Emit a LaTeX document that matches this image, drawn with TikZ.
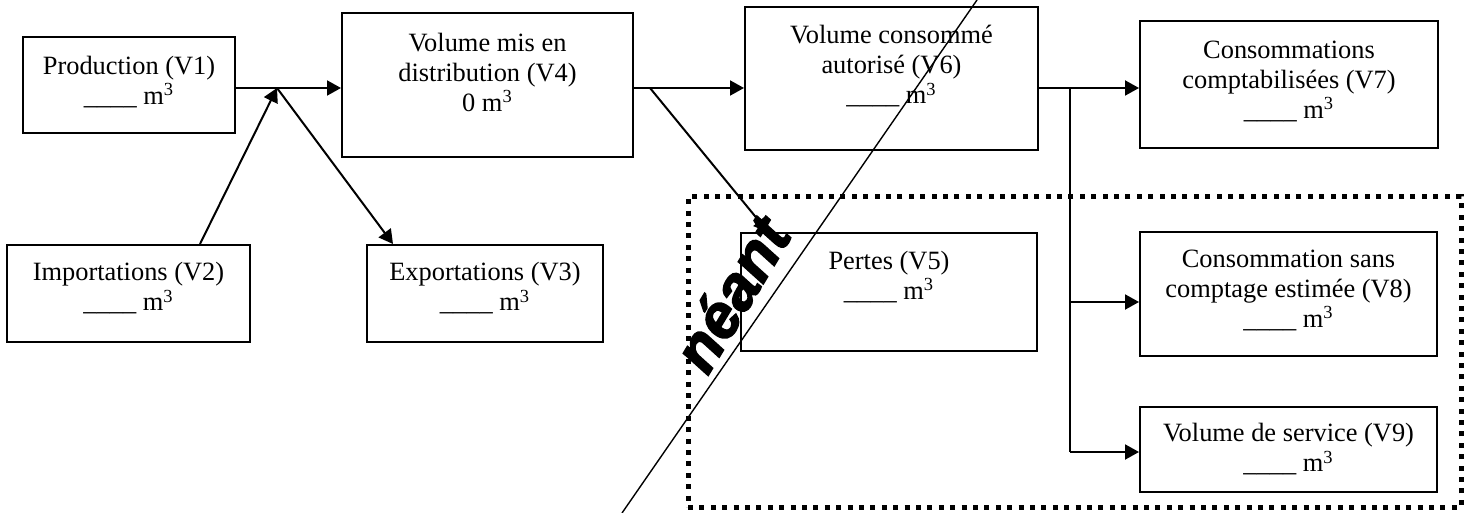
\documentclass[tikz,border=0pt]{standalone}
\usepackage{fontspec}
\setmainfont{Liberation Serif}
\newfontfamily\neantfont{Liberation Sans}[BoldItalicFeatures={FakeBold=2.5}]
\usetikzlibrary{arrows.meta}
\begin{document}
\begin{tikzpicture}[x=0.5pt,y=-0.5pt,
  box/.style 2 args={draw,line width=1pt,inner sep=0pt,minimum width=#1*0.5pt,minimum height=#2*0.5pt},
  lbl/.style={font=\fontsize{13.2}{15}\selectfont,align=center,inner sep=0pt},
  conn/.style={line width=1pt},
  arr/.style={conn,-{Triangle[length=7pt,width=7.5pt]}},
  frame/.style 2 args={draw,line width=2.5pt,dash pattern=on 2.5pt off 3.2pt,inner sep=0pt,minimum width=#1*0.5pt,minimum height=#2*0.5pt},
  strike/.style={line width=0.7pt},
  neant/.style={font=\neantfont\bfseries\itshape\fontsize{31}{31}\selectfont,inner sep=0pt}]
\useasboundingbox (0,0) rectangle (1471,513);
\fill[white] (0,0) rectangle (1471,513);
% boxes
\node[box={212}{96}] (v1) at (129,85) {};
\node[box={243}{97}] (v2) at (128.5,293.5) {};
\node[box={236}{97}] (v3) at (485,293.5) {};
\node[box={291}{144}] (v4) at (487.5,85) {};
\node[box={296}{118}] (v5) at (889,292) {};
\node[box={293}{143}] (v6) at (891.5,78.5) {};
\node[box={298}{127}] (v7) at (1289,84.5) {};
\node[box={297}{124}] (v8) at (1288.5,294) {};
\node[box={297}{85}] (v9) at (1288.5,449.5) {};
\node[frame={773}{310}] (grp) at (1074.5,352) {};
% labels
\node[lbl] (t1) at ([yshift=1.5pt]v1.center) {Production (V1)\\\_\_\_\_ m\textsuperscript{3}};
\node[lbl] (t2) at ([yshift=2.5pt]v2.center) {Importations (V2)\\\_\_\_\_ m\textsuperscript{3}};
\node[lbl] (t3) at ([yshift=2.5pt]v3.center) {Exportations (V3)\\\_\_\_\_ m\textsuperscript{3}};
\node[lbl] (t4) at ([yshift=6.5pt]v4.center) {Volume mis en\\distribution (V4)\\0 m\textsuperscript{3}};
\node[lbl] (t5) at ([yshift=7.5pt]v5.center) {Pertes (V5)\\\_\_\_\_ m\textsuperscript{3}};
\node[lbl] (t6) at ([yshift=6pt]v6.center) {Volume consommé\\autorisé (V6)\\\_\_\_\_ m\textsuperscript{3}};
\node[lbl] (t7) at ([yshift=1.5pt]v7.center) {Consommations\\comptabilisées (V7)\\\_\_\_\_ m\textsuperscript{3}};
\node[lbl] (t8) at ([yshift=2pt]v8.center) {Consommation sans\\comptage estimée (V8)\\\_\_\_\_ m\textsuperscript{3}};
\node[lbl] (t9) at (v9.center) {Volume de service (V9)\\\_\_\_\_ m\textsuperscript{3}};
% junctions
\coordinate (j1) at (277,88);
\coordinate (j2) at (650,88);
\coordinate (j3) at (1070,88);
\coordinate (i2) at (200,0);
\coordinate (e3) at (393,0);
\coordinate (p5) at (768,0);
\coordinate (k8) at (0,302);
\coordinate (k9) at (0,452);
% connectors
\draw[arr] (v1.east |- j1) -- (v4.west |- j1);
\draw[arr] (i2 |- v2.north) -- (j1);
\draw[arr] (j1) -- (e3 |- v3.north);
\draw[arr] (v4.east |- j2) -- (v6.west |- j2);
\draw[arr] (j2) -- (p5 |- v5.north);
\draw[arr] (v6.east |- j3) -- (v7.west |- j3);
\draw[conn] (j3) -- (j3 |- k9);
\draw[arr] (j3 |- k8) -- (v8.west |- k8);
\draw[arr] (j3 |- k9) -- (v9.west |- k9);
% neant
\node[neant,rotate=59] (nt) at (731,294) {néant};
\coordinate (s1) at (977,0);
\coordinate (s2) at (622,513);
\draw[strike] (s1) -- (s2);
\end{tikzpicture}
\end{document}
